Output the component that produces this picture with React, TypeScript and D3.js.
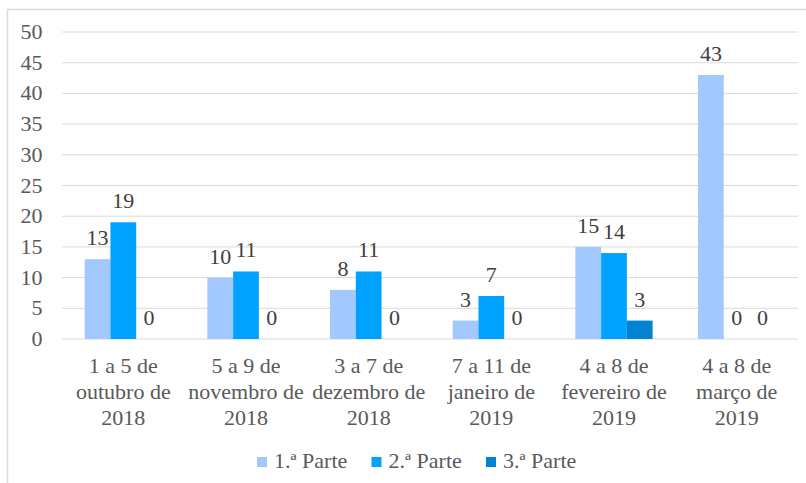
import * as d3 from 'd3'

// categories, one entry per line of the label
const categories = [
  ['1 a 5 de', 'outubro de', '2018'],
  ['5 a 9 de', 'novembro de', '2018'],
  ['3 a 7 de', 'dezembro de', '2018'],
  ['7 a 11 de', 'janeiro de', '2019'],
  ['4 a 8 de', 'fevereiro de', '2019'],
  ['4 a 8 de', 'março de', '2019'],
]

const seriesNames = ['1.ª Parte', '2.ª Parte', '3.ª Parte']
const parte1 = [13, 10, 8, 3, 15, 43]
const parte2 = [19, 11, 11, 7, 14, 0]
const parte3 = [0, 0, 0, 0, 3, 0]
const yTicks = [0, 5, 10, 15, 20, 25, 30, 35, 40, 45, 50]

const colors = ['#A2C8FE', '#00A2FF', '#0084D1']

const width = 806
const height = 483
const marginLeft = 62
const marginRight = 8
const plotTop = 32
const plotBottom = 339
const fs = 22
const textColor = '#595959'

const css = `
svg.chart text { font-family: 'Liberation Serif', 'Times New Roman', Tinos, serif !important; font-size: ${fs}px; }
`

export default function App() {
  const series = [parte1, parte2, parte3]

  // group axis
  const x0 = d3
    .scaleBand<number>()
    .domain(categories.map((_, i) => i))
    .range([marginLeft, width - marginRight])
    .paddingInner(0.37)
    .paddingOuter(0.185)

  // bars inside a group
  const x1 = d3
    .scaleBand<number>()
    .domain(series.map((_, i) => i))
    .range([0, x0.bandwidth()])

  const y = d3.scaleLinear().domain([0, 50]).range([plotBottom, plotTop])

  const legendX = [257, 371.5, 486]

  return (
    <svg
      className="chart"
      width={width}
      height={height}
      style={{ position: 'absolute', left: 0, top: 0, background: '#fff' }}
    >
      <style>{css}</style>
      <rect x={7.5} y={9.5} width={width + 20} height={height + 20} fill="none" stroke="#d9d9d9" strokeWidth={1.5} />

      {/* gridlines */}
      {yTicks.map((t) => (
        <line key={t} x1={marginLeft} x2={width - marginRight} y1={y(t)} y2={y(t)} stroke="#d9d9d9" strokeWidth={1} />
      ))}

      {/* y labels */}
      {yTicks.map((t) => (
        <text key={t} x={42.5} y={y(t) + 7} fill={textColor} textAnchor="end">
          {t}
        </text>
      ))}

      {/* bars */}
      {series.map((values, s) =>
        values.map((v, i) => (
          <rect
            key={`${s}-${i}`}
            x={(x0(i) ?? 0) + (x1(s) ?? 0)}
            y={y(v)}
            width={x1.bandwidth()}
            height={y(0) - y(v)}
            fill={colors[s]}
          />
        ))
      )}

      {/* value labels */}
      {series.map((values, s) =>
        values.map((v, i) => (
          <text
            key={`${s}-${i}`}
            x={(x0(i) ?? 0) + (x1(s) ?? 0) + x1.bandwidth() / 2}
            y={y(v) - 14}
            fill="#404040"
            textAnchor="middle"
          >
            {v}
          </text>
        ))
      )}

      {/* category labels, three lines each */}
      {categories.map((lines, i) =>
        lines.map((l, k) => (
          <text
            key={`${i}-${k}`}
            x={(x0(i) ?? 0) + x0.bandwidth() / 2}
            y={373 + k * 26}
            fill={textColor}
            textAnchor="middle"
          >
            {l}
          </text>
        ))
      )}

      {/* legend */}
      {seriesNames.map((name, s) => (
        <g key={name} transform={`translate(${legendX[s]},0)`}>
          <rect x={0} y={457} width={10} height={10} fill={colors[s]} />
          <text x={17} y={468} fill={textColor}>
            {name}
          </text>
        </g>
      ))}
    </svg>
  )
}
